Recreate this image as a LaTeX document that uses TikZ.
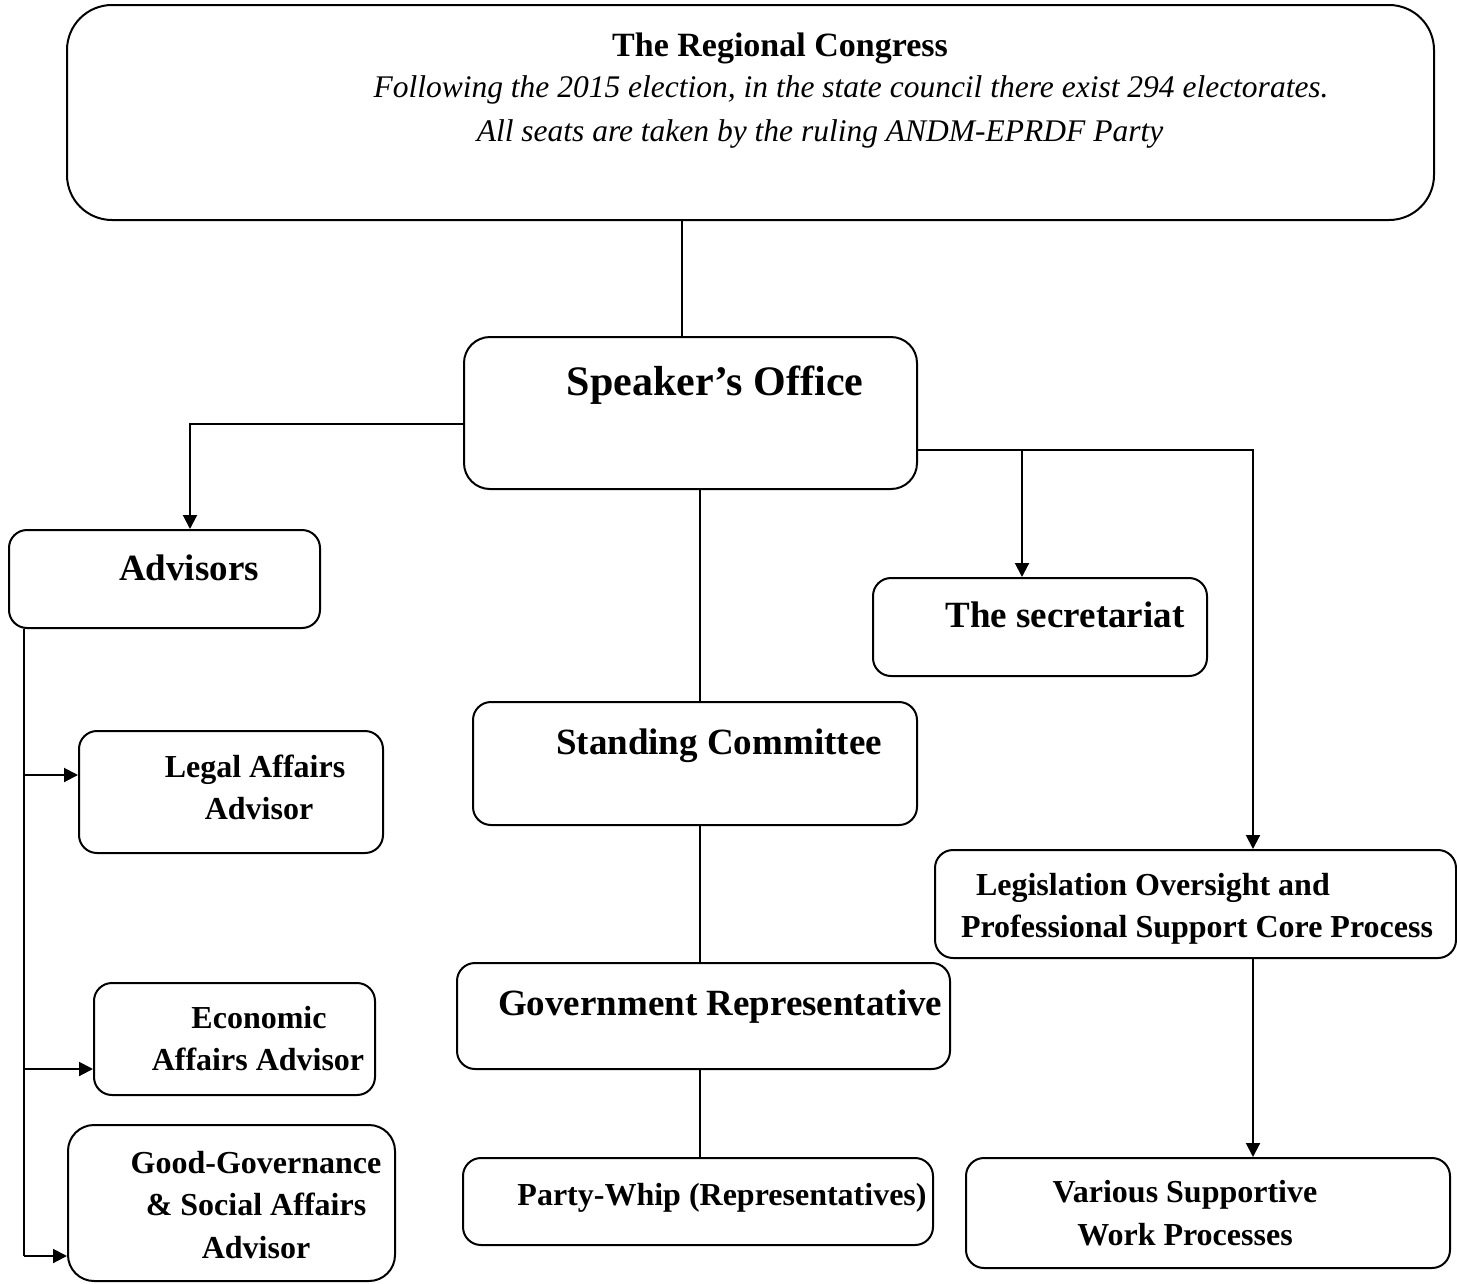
\documentclass[tikz,border=0pt]{standalone}
\usepackage{fontspec}
\setmainfont{Liberation Serif}
\usetikzlibrary{arrows.meta}

\begin{document}
\begin{tikzpicture}[x=1pt,y=-1pt,line width=2pt,
  box/.style={draw,rounded corners=18pt,inner sep=0pt},
  bigbox/.style={box,rounded corners=45pt},
  midbox/.style={box,rounded corners=26pt},
  txt/.style={anchor=base,inner sep=0pt,font=\fontsize{32}{38}\selectfont\bfseries},
  txtmid/.style={txt,font=\fontsize{37}{44}\selectfont\bfseries},
  txtbig/.style={txt,font=\fontsize{42}{50}\selectfont\bfseries},
  txthead/.style={txt,font=\fontsize{34}{40}\selectfont\bfseries},
  txtital/.style={txt,font=\fontsize{31.5}{38}\selectfont\itshape},
  arr/.style={-{Triangle[length=14pt,width=14pt]}},
  link/.style={}]

\useasboundingbox (0,0) rectangle (1457,1283);

% ---- boxes ----
\node[bigbox,minimum width=1367pt,minimum height=215pt] (top) at (750.5,112.5) {};
\node[midbox,minimum width=453pt,minimum height=152pt] (spk) at (690.5,413) {};
\node[box,minimum width=311pt,minimum height=98pt] (adv) at (164.5,579) {};
\node[box,minimum width=304pt,minimum height=122pt] (legal) at (231,792) {};
\node[box,minimum width=281pt,minimum height=112pt] (econ) at (234.5,1039) {};
\node[midbox,minimum width=327pt,minimum height=156pt] (good) at (231.5,1203) {};
\node[box,minimum width=444pt,minimum height=123pt] (std) at (695,763.5) {};
\node[box,minimum width=493pt,minimum height=106pt] (gov) at (703.5,1016) {};
\node[box,minimum width=470pt,minimum height=87pt] (whip) at (698,1201.5) {};
\node[box,minimum width=334pt,minimum height=98pt] (secr) at (1040,627) {};
\node[box,minimum width=521pt,minimum height=108pt] (legis) at (1195.5,904) {};
\node[box,minimum width=484pt,minimum height=110pt] (var) at (1208,1213) {};

% ---- texts ----
\node[txthead] (topA) at (780,56) {The Regional Congress};
\node[txtital] (topB) at (851,97) {Following the 2015 election, in the state council there exist 294 electorates.};
\node[txtital] (topC) at (820,141) {All seats are taken by the ruling ANDM-EPRDF Party};

\node[txtbig] (spkT) at (715,395) {Speaker’s Office};
\node[txtmid] (advT) at (189,580) {Advisors};
\node[txtmid] (secrT) at (1065,627) {The secretariat};
\node[txtmid] (stdT) at (719,754) {Standing Committee};
\node[txtmid,anchor=base west] (govT) at (497,1015) {Government Representative};

\node[txt] (legalA) at (255,777.5) {Legal Affairs};
\node[txt] (legalB) at (259,819.5) {Advisor};
\node[txt] (econA) at (259,1028.5) {Economic};
\node[txt] (econB) at (258,1070.5) {Affairs Advisor};
\node[txt] (goodA) at (256,1173.5) {Good-Governance};
\node[txt] (goodB) at (256,1215.5) {\& Social Affairs};
\node[txt] (goodC) at (256,1258.5) {Advisor};
\node[txt] (whipT) at (722,1205.5) {Party-Whip (Representatives)};
\node[txt,anchor=base west] (legisA) at (975,895.5) {Legislation Oversight and};
\node[txt,anchor=base west] (legisB) at (960,937.5) {Professional Support Core Process};
\node[txt] (varA) at (1185,1202.5) {Various Supportive};
\node[txt] (varB) at (1185,1245.5) {Work Processes};

% ---- helper points for the connectors ----
\coordinate (cTop) at (682,0);
\coordinate (cMid) at (700,0);
\coordinate (cAdv) at (190,424);
\coordinate (cRight) at (1253,450);
\coordinate (cSecr) at (1022,450);
\coordinate (cRx) at (1253,0);
\coordinate (tLegal) at (24,775);
\coordinate (tEcon) at (24,1069);
\coordinate (tGood) at (24,1256);

% ---- connectors ----
\draw (top.south -| cTop) -- (spk.north -| cTop);
\draw[arr] (spk.west |- cAdv) -- (cAdv) -- (adv.north -| cAdv);
\draw[arr] (spk.east |- cRight) -- (cRight) -- (legis.north -| cRight);
\draw[arr] (cSecr) -- (secr.north -| cSecr);
\draw (spk.south -| cMid) -- (std.north -| cMid);
\draw (std.south -| cMid) -- (gov.north -| cMid);
\draw (gov.south -| cMid) -- (whip.north -| cMid);
\draw[arr] (legis.south -| cRx) -- (var.north -| cRx);
\draw (adv.south -| tLegal) -- (tGood);
\draw[arr] (tLegal) -- (legal.west |- tLegal);
\draw[arr] (tEcon) -- (econ.west |- tEcon);
\draw[arr] (tGood) -- (good.west |- tGood);
\end{tikzpicture}
\end{document}
